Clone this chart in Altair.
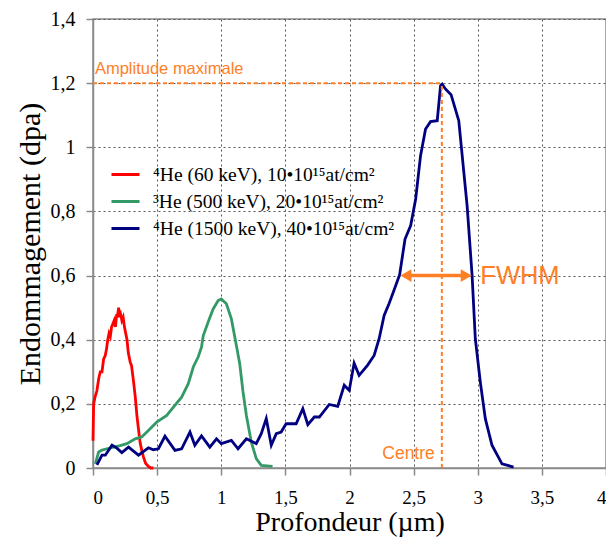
import altair as alt
import pandas as pd

# ---------------- data ----------------
series = [
    "⁴He (60 keV), 10•10¹⁵at/cm²",
    "³He (500 keV), 20•10¹⁵at/cm²",
    "⁴He (1500 keV), 40•10¹⁵at/cm²",
]
colors = ["#FF0000", "#339966", "#000080"]

red_x = [0.0, 0.005, 0.015, 0.03, 0.045, 0.057, 0.07, 0.083, 0.095, 0.105, 0.115,
         0.125, 0.135, 0.145, 0.155, 0.165, 0.175, 0.185, 0.19, 0.2, 0.205, 0.215,
         0.225, 0.235, 0.245, 0.255, 0.265, 0.275, 0.29, 0.3, 0.316, 0.33, 0.342,
         0.355, 0.367, 0.38, 0.394, 0.41, 0.432, 0.45, 0.471]
red_y = [0.085, 0.2, 0.22, 0.24, 0.28, 0.30, 0.30, 0.34, 0.35, 0.37, 0.40,
         0.42, 0.41, 0.44, 0.45, 0.46, 0.44, 0.48, 0.47, 0.50, 0.47, 0.48,
         0.46, 0.47, 0.44, 0.42, 0.40, 0.36, 0.33, 0.32, 0.27, 0.22, 0.165,
         0.12, 0.08, 0.055, 0.034, 0.015, 0.005, 0.0, 0.0]

green_x = [0.018, 0.044, 0.07, 0.109, 0.16, 0.212, 0.264, 0.329, 0.38, 0.432, 0.497,
           0.575, 0.627, 0.691, 0.743, 0.782, 0.82, 0.846, 0.86, 0.898, 0.937, 0.976,
           1.0, 1.04, 1.079, 1.118, 1.144, 1.17, 1.196, 1.234, 1.273, 1.312, 1.4]
green_y = [0.013, 0.05, 0.056, 0.06, 0.065, 0.07, 0.076, 0.091, 0.097, 0.117, 0.143,
           0.164, 0.19, 0.221, 0.263, 0.315, 0.346, 0.377, 0.413, 0.455, 0.496, 0.522,
           0.527, 0.512, 0.465, 0.382, 0.325, 0.237, 0.164, 0.081, 0.029, 0.008, 0.005]

navy_x = [0.031, 0.07, 0.096, 0.148, 0.186, 0.225, 0.277, 0.355, 0.432, 0.471, 0.51,
          0.561, 0.639, 0.691, 0.756, 0.794, 0.846, 0.911, 0.963, 1.0, 1.079, 1.131,
          1.196, 1.273, 1.312, 1.351, 1.39, 1.429, 1.467, 1.506, 1.584, 1.636, 1.675,
          1.726, 1.765, 1.842, 1.908, 1.959, 1.998, 2.036, 2.075, 2.14, 2.192, 2.231,
          2.27, 2.308, 2.347, 2.391, 2.433, 2.477, 2.516, 2.554, 2.593, 2.632, 2.684,
          2.71, 2.723, 2.748, 2.792, 2.852, 2.917, 2.956, 2.981, 3.02, 3.059, 3.111,
          3.189, 3.279]
navy_y = [0.01, 0.04, 0.04, 0.071, 0.062, 0.048, 0.065, 0.04, 0.063, 0.057, 0.06,
          0.099, 0.055, 0.06, 0.112, 0.071, 0.1, 0.065, 0.091, 0.076, 0.086, 0.06,
          0.091, 0.076, 0.107, 0.154, 0.071, 0.107, 0.112, 0.138, 0.138, 0.185, 0.135,
          0.159, 0.159, 0.198, 0.192, 0.258, 0.242, 0.327, 0.289, 0.32, 0.351, 0.403,
          0.476, 0.512, 0.554, 0.603, 0.714, 0.756, 0.839, 0.974, 1.057, 1.08, 1.083,
          1.192, 1.197, 1.182, 1.164, 1.083, 0.818, 0.6, 0.403, 0.268, 0.154, 0.071,
          0.013, 0.003]

x_ticks = [0, 0.5, 1, 1.5, 2, 2.5, 3, 3.5, 4]
y_ticks = [0, 0.2, 0.4, 0.6, 0.8, 1, 1.2, 1.4]

amp_max = 1.2
centre_x = 2.72
fwhm_left = 2.395
fwhm_right = 2.955
fwhm_y = 0.6

# ---------------- chart ----------------
rows = []
for name, xs, ys in zip(series, [red_x, green_x, navy_x], [red_y, green_y, navy_y]):
    for i, (xv, yv) in enumerate(zip(xs, ys)):
        rows.append({"serie": name, "x": xv, "y": yv, "i": i})
df = pd.DataFrame(rows)

orange = "#FF7F27"
comma = "replace(toString(datum.value), '.', ',')"
x_scale = alt.Scale(domain=[0, 4], nice=False, zero=False)
y_scale = alt.Scale(domain=[0, 1.4], nice=False)
x_axis = alt.Axis(values=x_ticks, labelExpr=comma, title="Profondeur (µm)",
                  labelPadding=13, titlePadding=1, titleFontSize=28, labelFontSize=19)
y_axis = alt.Axis(values=y_ticks, labelExpr=comma, title="Endommagement (dpa)",
                  labelPadding=11, titlePadding=5, titleFontSize=30, labelFontSize=20)

X = alt.X("x:Q", scale=x_scale, axis=x_axis)
Y = alt.Y("y:Q", scale=y_scale, axis=y_axis)

lines = alt.Chart(df).mark_line(strokeWidth=2.8).encode(
    x=X, y=Y,
    color=alt.Color("serie:N", scale=alt.Scale(domain=series, range=colors),
                    legend=alt.Legend(orient="none", legendX=17, legendY=140, title=None,
                                      symbolType="stroke", symbolStrokeWidth=3,
                                      symbolSize=784, labelFontSize=19.5,
                                      labelFont="Liberation Serif", labelOffset=12,
                                      rowPadding=2, padding=0, labelLimit=0,
                                      labelColor="black")),
    order="i:Q",
)

amp_df = pd.DataFrame({"x": [0], "x2": [centre_x], "y": [amp_max]})
amp_line = alt.Chart(amp_df).mark_rule(color=orange, strokeWidth=2, strokeDash=[4, 3]).encode(
    x=X, x2="x2:Q", y=Y)

ctr_df = pd.DataFrame({"x": [centre_x], "y": [0], "y2": [amp_max]})
ctr_line = alt.Chart(ctr_df).mark_rule(color=orange, strokeWidth=2, strokeDash=[4, 3]).encode(
    x=X, y=Y, y2="y2:Q")

arr_df = pd.DataFrame({"x": [fwhm_left + 0.03], "x2": [fwhm_right - 0.03], "y": [fwhm_y]})
arrow = alt.Chart(arr_df).mark_rule(color=orange, strokeWidth=3.5).encode(x=X, x2="x2:Q", y=Y)
hl = alt.Chart(pd.DataFrame({"x": [fwhm_left + 0.045], "y": [fwhm_y]})).mark_point(
    shape="triangle-left", filled=True, color=orange, size=160, opacity=1).encode(x=X, y=Y)
hr = alt.Chart(pd.DataFrame({"x": [fwhm_right - 0.045], "y": [fwhm_y]})).mark_point(
    shape="triangle-right", filled=True, color=orange, size=160, opacity=1).encode(x=X, y=Y)

txt_df = pd.DataFrame({"x": [0.015], "y": [1.243], "t": ["Amplitude maximale"]})
amp_txt = alt.Chart(txt_df).mark_text(align="left", baseline="middle", color=orange,
                                      font="Liberation Sans", fontSize=16.5).encode(x=X, y=Y, text="t:N")
fw_df = pd.DataFrame({"x": [3.02], "y": [0.6], "t": ["FWHM"]})
fw_txt = alt.Chart(fw_df).mark_text(align="left", baseline="middle", color=orange,
                                    font="Liberation Sans", fontSize=25.5).encode(x=X, y=Y, text="t:N")
ce_df = pd.DataFrame({"x": [2.665], "y": [0.044], "t": ["Centre"]})
ce_txt = alt.Chart(ce_df).mark_text(align="right", baseline="middle", color=orange,
                                    font="Liberation Sans", fontSize=17.5).encode(x=X, y=Y, text="t:N")

chart = alt.layer(lines, amp_line, ctr_line, arrow, hl, hr, amp_txt, fw_txt, ce_txt).properties(
    width=513, height=449,
    autosize=alt.AutoSizeParams(type="none"),
    padding={"left": 85, "top": 11, "right": 0, "bottom": 72},
).configure_axis(
    gridColor="#555555", gridDash=[2, 3], gridWidth=1, gridOpacity=1,
    domainColor="#8a8a8a", domainWidth=1.5, tickColor="#8a8a8a", tickSize=7, tickWidth=1.5,
    labelFont="Liberation Serif", labelColor="black",
    titleFont="Liberation Serif", titleFontWeight="normal", titleColor="black",
).configure_view(stroke="#8a8a8a", strokeWidth=1.5)

chart.save("out.html", embed_options={"renderer": "svg", "actions": False})
